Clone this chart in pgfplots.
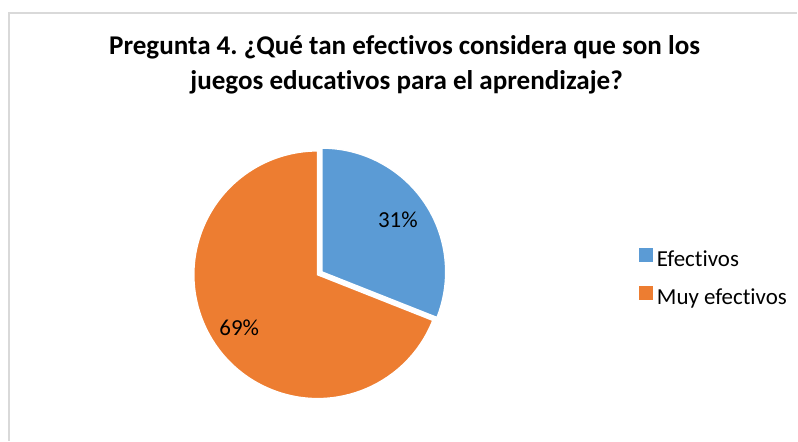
\documentclass[border=0pt]{standalone}
\usepackage{pgfplots}
\pgfplotsset{compat=1.18}
\usepackage{pgfplotstable}
\usetikzlibrary{calc}
\usepackage{fontspec}
\setmainfont{Carlito}[RawFeature=-liga]

\definecolor{pieblue}{HTML}{5B9BD5}
\definecolor{pieorange}{HTML}{ED7D31}
\definecolor{framegray}{HTML}{D9D9D9}

\pgfplotstableread{
label value
Efectivos 31
Muy_efectivos 69
}\piedata

\begin{document}
\frenchspacing
\begin{tikzpicture}
\pgfplotstablegetelem{0}{value}\of\piedata \let\va\pgfplotsretval
\pgfplotstablegetelem{1}{value}\of\piedata \let\vb\pgfplotsretval
\pgfmathsetmacro{\tot}{\va+\vb}
\pgfmathsetmacro{\aend}{90-360*\va/\tot}   % end of first slice (clockwise)
\pgfmathsetmacro{\amid}{90-180*\va/\tot}   % bisector of first slice
\pgfmathsetmacro{\bmid}{\aend-180*\vb/\tot}
\pgfmathtruncatemacro{\pa}{round(100*\va/\tot)}
\pgfmathtruncatemacro{\pb}{round(100*\vb/\tot)}
\begin{axis}[
  x=1bp, y=1bp,
  scale only axis,
  xmin=0, xmax=798, ymin=0, ymax=441,
  y dir=reverse,
  hide axis,
  clip=false,
  font=\fontsize{23}{28}\selectfont,
  legend style={at={(axis cs:636,246)}, anchor=north west, draw=none, fill=none,
    font=\fontsize{23}{28}\selectfont, row sep=16bp,
    cells={anchor=west}},
  legend image code/.code={\fill[#1] (0bp,-2bp) rectangle (13bp,11bp);},
]
\path (axis cs:0,0) (axis cs:798,441);
% frame (only top and left edges are visible)
\draw[framegray, line width=1.5bp] (axis cs:9,441) -- (axis cs:9,13) -- (axis cs:798,13);

% slices
\fill[pieorange, draw=white, line width=1.5bp] (axis cs:318,275) -- ++(\aend:124bp)
  arc[start angle=\aend, end angle=-270, radius=124bp] -- cycle;
\fill[pieblue, draw=white, line width=1.5bp] (axis cs:318,275) ++(\amid:5bp) -- ++(90:124bp)
  arc[start angle=90, end angle=\aend, radius=124bp] -- cycle;

% data labels
\node at ($(axis cs:318,275)+(\amid:97bp)$) {\pa\%};
\node at ($(axis cs:318,275)+(\bmid:95bp)$) {\pb\%};

% title
\node[anchor=base, font=\fontsize{27.2}{32}\bfseries] at (axis cs:405,55)
  {Pregunta 4. ¿Qué tan efectivos considera que son los};
\node[anchor=base, font=\fontsize{27.2}{32}\bfseries] at (axis cs:407,90)
  {juegos educativos para el aprendizaje?};

\addlegendimage{pieblue}
\addlegendentry{\hspace{3bp}Efectivos}
\addlegendimage{pieorange}
\addlegendentry{\hspace{3bp}Muy efectivos}
\end{axis}
\end{tikzpicture}
\end{document}
